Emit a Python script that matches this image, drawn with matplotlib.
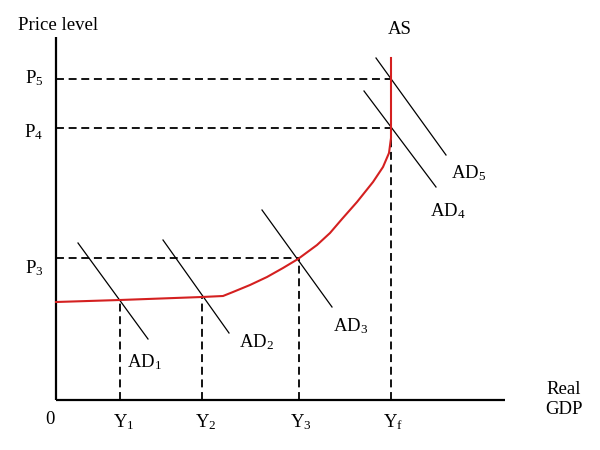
import matplotlib
matplotlib.use("Agg")
import matplotlib.pyplot as plt

plt.rcParams['font.family'] = ['Liberation Serif', 'DejaVu Serif']
plt.rcParams['mathtext.fontset'] = 'custom'
plt.rcParams['mathtext.rm'] = 'Liberation Serif'
plt.rcParams['mathtext.it'] = 'Liberation Serif:italic'

# Output levels (x) and price levels (y)
Y1, Y2, Y3, Yf = 64, 146, 243, 335
P3, P4, P5 = 142, 272, 321

# Aggregate supply curve
as_x = [0, 64, 146, 167, 177, 194, 211, 227, 242, 261, 274, 286, 301, 317, 327, 333, 335, 335, 335]
as_y = [98, 100, 103, 104, 108, 115, 123, 132, 141, 155, 167, 181, 198, 218, 233, 247, 262, 272, 342]

# Aggregate demand lines (start, end)
ad_names = ["AD$_1$", "AD$_2$", "AD$_3$", "AD$_4$", "AD$_5$"]
ad_x0 = [22, 107, 206, 308, 320]
ad_y0 = [157, 160, 190, 309, 342]
ad_x1 = [92, 173, 276, 380, 390]
ad_y1 = [61, 67, 93, 213, 245]

fig = plt.figure(figsize=(6, 4.5), dpi=100)
ax = fig.add_axes([0, 0, 1, 1])
ax.set_xlim(-56, 544)
ax.set_ylim(-50, 400)
ax.axis('off')

# axes
ax.plot([0, 0], [0, 363], color='black', lw=1.6, solid_capstyle='butt')
ax.plot([0, 449], [0, 0], color='black', lw=1.6, solid_capstyle='butt')

dash = dict(color='black', lw=1.3, dashes=(4.4, 2.6))
# horizontal dashed
ax.plot([0, Yf], [P5, P5], **dash)
ax.plot([0, Yf], [P4, P4], **dash)
ax.plot([0, Y3], [P3, P3], **dash)
# vertical dashed
ax.plot([Y1, Y1], [0, as_y[1]], **dash)
ax.plot([Y2, Y2], [0, as_y[2]], **dash)
ax.plot([Y3, Y3], [0, P3], **dash)
ax.plot([Yf, Yf], [0, P4], **dash)

# AD lines
for x0, y0, x1, y1 in zip(ad_x0, ad_y0, ad_x1, ad_y1):
    ax.plot([x0, x1], [y0, y1], color='black', lw=0.9)

# AS curve
ax.plot(as_x, as_y, color='#d42020', lw=1.5, solid_joinstyle='round')

fs = 13.5
ax.text(-38, 375, "Price level", fontsize=fs, ha='left', va='center')
ax.text(344, 370, "AS", fontsize=fs, ha='center', va='center')
ax.text(-22, P5 + 1, "P$_5$", fontsize=fs, ha='center', va='center')
ax.text(-22, P4 - 4, "P$_4$", fontsize=fs, ha='center', va='center')
ax.text(-22, P3 - 10, "P$_3$", fontsize=fs, ha='center', va='center')

ax.text(-6, -20, "0", fontsize=fs, ha='center', va='center')
ax.text(Y1 + 4, -22, "Y$_1$", fontsize=fs, ha='center', va='center')
ax.text(Y2 + 4, -22, "Y$_2$", fontsize=fs, ha='center', va='center')
ax.text(Y3 + 2, -22, "Y$_3$", fontsize=fs, ha='center', va='center')
ax.text(Yf + 2, -22, "Y$_\\mathrm{f}$", fontsize=fs, ha='center', va='center')
ax.text(508, 10, "Real", fontsize=fs, ha='center', va='center')
ax.text(508, -10, "GDP", fontsize=fs, ha='center', va='center')

lbl_x = [71, 183, 277, 374, 395]
lbl_y = [38, 58, 74, 189, 227]
for name, lx, ly in zip(ad_names, lbl_x, lbl_y):
    ax.text(lx, ly, name, fontsize=fs, ha='left', va='center')

fig.savefig("out.png", dpi=100, facecolor='white')
